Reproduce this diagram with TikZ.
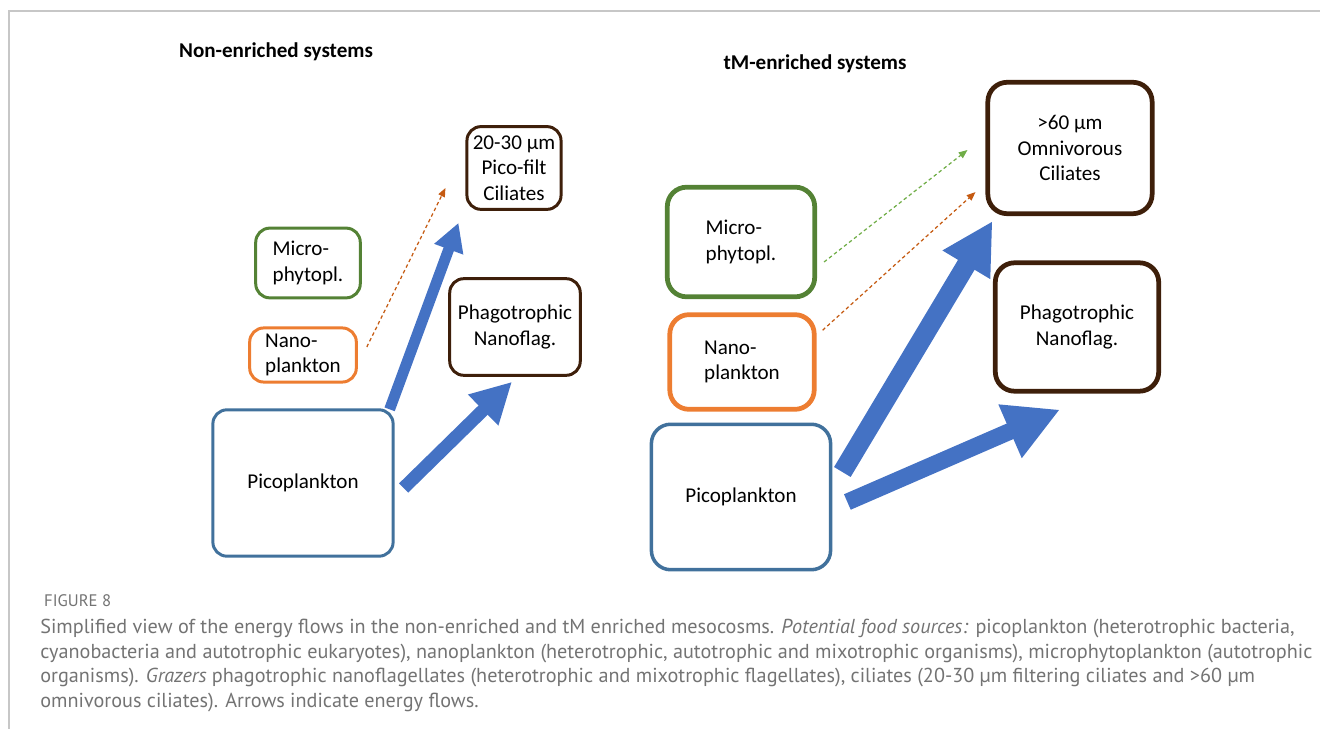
\documentclass[tikz,border=0pt]{standalone}
\usepackage{fontspec}
\setmainfont{Carlito}
\newfontfamily\capfont{PT Sans}
\usetikzlibrary{arrows.meta}

\definecolor{picoblue}{HTML}{41719C}
\definecolor{microgreen}{HTML}{548235}
\definecolor{nanoorange}{HTML}{ED7D31}
\definecolor{grazerbrown}{HTML}{3E1F0A}
\definecolor{flowblue}{HTML}{4472C4}
\definecolor{dashorange}{HTML}{C55A11}
\definecolor{dashgreen}{HTML}{70AD47}
\definecolor{capgray}{HTML}{737373}

\tikzset{
  box/.style={draw, line width=1.7pt, rounded corners=8pt, align=center,
    font=\fontsize{12}{14.5}\selectfont},
  bigbox/.style={box, line width=2.7pt, rounded corners=11pt},
  flow/.style={flowblue},
  weakflow/.style={line width=0.7pt, dash pattern=on 2pt off 1.6pt,
    -{Triangle[length=5pt,width=4pt]}}
}

\begin{document}
\begin{tikzpicture}[x=0.02cm, y=-0.02cm]
    \useasboundingbox (0,0) rectangle (1320,729);
    % Frame
    \draw[capgray!40, line width=0.8pt] (1320,11) -- (9,11) -- (9,729);
    % Non-enriched systems
    \node[font=\fontsize{12}{14}\selectfont\bfseries] (titleleft) at (276,52) {Non-enriched systems};
    \node[box, draw=grazerbrown, minimum width=51.6pt, minimum height=47.1pt] (cil) at (514,168) {20-30 µm\\Pico-filt\\Ciliates};
    \node[box, draw=microgreen, align=left, minimum width=59.5pt, minimum height=39.7pt] (micro) at (308,263) {Micro-\\phytopl.};
    \node[box, draw=nanoorange, align=left, minimum width=60.7pt, minimum height=28.9pt] (nano) at (303,355) {Nano-\\plankton};
    \node[box, draw=grazerbrown, minimum width=74.3pt, minimum height=55pt] (phago) at (515,327) {Phagotrophic\\Nanoflag.};
    \node[box, draw=picoblue, minimum width=102.6pt, minimum height=83.3pt] (pico) at (303,483) {Picoplankton};
    \draw[flow, line width=6.2pt, -{Triangle[length=16pt,width=16.5pt]}]
      ([shift={(-5,1)}]pico.north east) -- ([shift={(-7,12)}]cil.south west);
    \draw[flow, line width=7.4pt, -{Triangle[length=23pt,width=23pt]}]
      ([shift={(9,5)}]pico.east) -- ([shift={(-3,5)}]phago.south);
    \draw[weakflow, dashorange] ([shift={(9,-8)}]nano.east) -- ([shift={(-20,20)}]cil.west);
    % tM-enriched systems
    \node[font=\fontsize{12}{14}\selectfont\bfseries] (titleright) at (815,64) {tM-enriched systems};
    \node[bigbox, draw=grazerbrown, minimum width=93.5pt, minimum height=74.8pt] (omni) at (1070,148) {>60 µm\\Omnivorous\\Ciliates};
    \node[bigbox, draw=grazerbrown, minimum width=93pt, minimum height=73.1pt] (phagoT) at (1077,327) {Phagotrophic\\Nanoflag.};
    \node[bigbox, draw=microgreen, align=left, minimum width=83.9pt, minimum height=62.4pt] (microT) at (741,242) {Micro-\\phytopl.};
    \node[bigbox, draw=nanoorange, align=left, minimum width=82.2pt, minimum height=53.9pt] (nanoT) at (742,362) {Nano-\\plankton};
    \node[bigbox, draw=picoblue, line width=2pt, minimum width=102pt, minimum height=82.8pt] (picoT) at (741,497) {Picoplankton};
    \draw[flow, line width=11pt, -{Triangle[length=29pt,width=29.5pt]}]
      ([shift={(10,-25)}]picoT.east) -- ([shift={(7,5)}]omni.south west);
    \draw[flow, line width=9.6pt, -{Triangle[length=31pt,width=31pt]}]
      ([shift={(15,5)}]picoT.east) -- ([shift={(-17,16)}]phagoT.south);
    \draw[weakflow, dashgreen] ([shift={(7,20)}]microT.east) -- ([shift={(-18,2)}]omni.west);
    \draw[weakflow, dashorange] ([shift={(6,18)}]nanoT.north east) -- ([shift={(-10,-24)}]omni.south west);
    % Caption
    \node[anchor=west, capgray, font=\capfont\fontsize{9.5}{11}\selectfont] (figlabel) at (38,601) {FIGURE 8};
    \node[anchor=north west, capgray, align=left, inner sep=0pt,
      font=\capfont\fontsize{11.5}{13.9}\selectfont] (caption) at (40,619)
      {Simplified view of the energy flows in the non-enriched and tM enriched mesocosms. \textit{Potential food sources:} picoplankton (heterotrophic bacteria,\\
       cyanobacteria and autotrophic eukaryotes), nanoplankton (heterotrophic, autotrophic and mixotrophic organisms), microphytoplankton (autotrophic\\
       organisms). \textit{Grazers} phagotrophic nanoflagellates (heterotrophic and mixotrophic flagellates), ciliates (20-30 µm filtering ciliates and >60 µm\\
       omnivorous ciliates). Arrows indicate energy flows.};
\end{tikzpicture}
\end{document}
